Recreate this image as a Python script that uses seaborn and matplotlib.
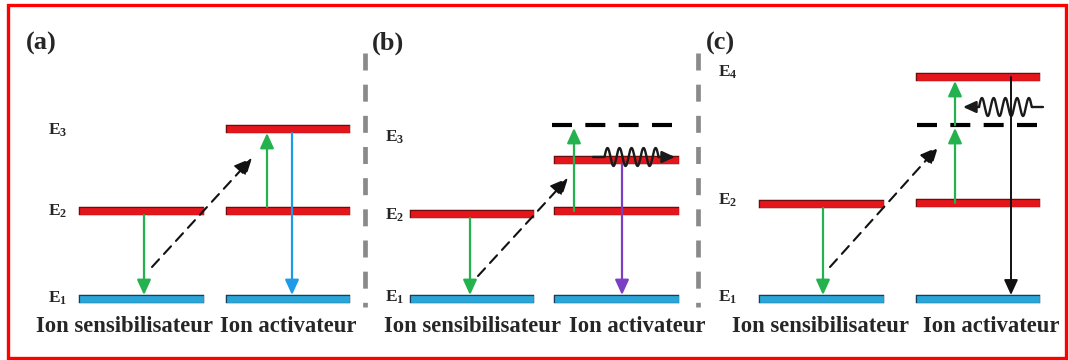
import numpy as np
import pandas as pd
import matplotlib
matplotlib.use("Agg")
import matplotlib.pyplot as plt
import seaborn as sns
from matplotlib import patheffects as pe
from matplotlib.patches import Rectangle

# ---------------- data ----------------
panel_labels = ["(a)", "(b)", "(c)"]
ion_labels = ["Ion sensibilisateur", "Ion activateur"]

# energy levels (arbitrary units, E1 = 0)
a_sens = [0.0, 8.8]
a_act = [0.0, 8.8, 17.0]
b_sens = [0.0, 8.5]
b_act = [0.0, 8.8, 13.9]
b_virtual = 17.4
c_sens = [0.0, 9.5]
c_act = [0.0, 9.6, 22.2]
c_virtual = 17.4

# level name labels and their heights
names_a = [r"$\mathbf{E_1}$", r"$\mathbf{E_2}$", r"$\mathbf{E_3}$"]
names_b = [r"$\mathbf{E_1}$", r"$\mathbf{E_2}$", r"$\mathbf{E_3}$"]
names_c = [r"$\mathbf{E_1}$", r"$\mathbf{E_2}$", r"$\mathbf{E_4}$"]
name_E_a = [0.1, 8.8, 16.9]
name_E_b = [0.2, 8.4, 16.2]
name_E_c = [0.2, 9.9, 22.7]

# energy-transfer (dashed) arrow start / end heights
a_transfer = [3.2, 14.1]
b_transfer = [2.3, 12.1]
c_transfer = [3.2, 15.2]
# phonon (wavy) arrow heights
wavy_E_b = 14.2
wavy_E_c = 19.2

# ---------------- layout ----------------
W, H = 1069, 360
sens_x = [(80, 203), (411, 533), (760, 883)]
act_x = [(227, 349), (555, 678), (917, 1039)]
name_x = [58, 395, 728]
panel_label_x = [41, 388, 720]
ion_text_x = [(124, 288), (472, 637), (820, 991)]
sep_x = [365, 698]

sns.set_theme(style="white")
plt.rcParams["font.family"] = ["Liberation Serif", "DejaVu Serif"]
plt.rcParams["mathtext.fontset"] = "custom"
plt.rcParams["mathtext.bf"] = "Liberation Serif:bold"
plt.rcParams["mathtext.rm"] = "Liberation Serif"

fig = plt.figure(figsize=(W / 100, H / 100), dpi=100)
ax = fig.add_axes([0, 0, 1, 1])
ax.set_xlim(0, W)
ax.set_ylim((299 - H) / 10, 299 / 10)
ax.axis("off")

RED, RED_E = "#e4161c", "#6e0d0d"
BLUE, BLUE_E = "#2aa5d8", "#173f57"
GREEN = "#23b24e"

LW_BAR, LW_EDGE = 4.9, 6.1
inset = LW_BAR / 2 * 100 / 72  # pixels the projecting cap adds

# ----- energy level bars via seaborn -----
rows = []
uid = 0
levels = [(a_sens, a_act), (b_sens, b_act), (c_sens, c_act)]
for p, (sens, act) in enumerate(levels):
    for xs, lev in ((sens_x[p], sens), (act_x[p], act)):
        for i, e in enumerate(lev):
            kind = "ground" if i == 0 else "excited"
            rows.append(dict(x=xs[0] + inset, E=e, uid=uid, kind=kind))
            rows.append(dict(x=xs[1] - inset, E=e, uid=uid, kind=kind))
            uid += 1
df = pd.DataFrame(rows)
sns.lineplot(data=df, x="x", y="E", units="uid", hue="kind",
             palette={"ground": BLUE, "excited": RED}, estimator=None,
             sort=False, legend=False, lw=LW_BAR, ax=ax)
for ln in ax.lines:
    c = matplotlib.colors.to_hex(ln.get_color())
    edge = BLUE_E if c.lower() == BLUE else RED_E
    ln.set_solid_capstyle("projecting")
    ln.set_path_effects([pe.Stroke(linewidth=LW_EDGE, foreground=edge, capstyle="projecting"),
                         pe.Normal()])

half = 0.4


def arrow(x0, y0, x1, y1, color, lw=1.6, ls="-", ms=13):
    ax.annotate("", xy=(x1, y1), xytext=(x0, y0),
                arrowprops=dict(arrowstyle="-|>,head_length=0.7,head_width=0.32",
                                color=color, lw=lw, linestyle=ls,
                                shrinkA=0, shrinkB=0, mutation_scale=ms))


def wavy(x0, x1, e, color="#1a1a1a"):
    d = np.sign(x1 - x0)
    L = abs(x1 - x0)
    xs0 = x0 + d * 0.14 * L
    xs1 = x0 + d * 0.80 * L
    t = np.linspace(0, 1, 400)
    xw = xs0 + (xs1 - xs0) * t
    yw = e + 0.9 * np.sin(2 * np.pi * 4.5 * t)
    ax.plot([x0, xs0], [e, e], color=color, lw=1.7)
    ax.plot(xw, yw, color=color, lw=1.7)
    arrow(xs1, e, x1, e, color, lw=1.7, ms=11)


# panel (a)
arrow(144, a_sens[1] - half, 144, a_sens[0] + half, GREEN)
arrow(152, a_transfer[0], 252, a_transfer[1], "#111111", lw=1.5, ls=(0, (5, 3.5)), ms=15)
arrow(267, a_act[1] + half, 267, a_act[2] - half, GREEN)
arrow(292, a_act[2] - half, 292, a_act[0] + half, "#1e9be6")

# panel (b)
arrow(470, b_sens[1] - half, 470, b_sens[0] + half, GREEN)
arrow(478, b_transfer[0], 568, b_transfer[1], "#111111", lw=1.5, ls=(0, (5, 3.5)), ms=15)
arrow(574, b_act[1], 574, b_virtual - 0.3, GREEN)
arrow(622, b_act[2] - half, 622, b_act[0] + half, "#7b3fc4")
ax.plot([552, 675], [b_virtual, b_virtual], color="black", lw=3.0,
        dashes=(4.8, 3.2), dash_capstyle="butt")
wavy(593, 675, wavy_E_b)

# panel (c)
arrow(823, c_sens[1] - half, 823, c_sens[0] + half, GREEN)
arrow(830, c_transfer[0], 938, c_transfer[1], "#111111", lw=1.5, ls=(0, (5, 3.5)), ms=15)
arrow(955, c_act[1], 955, c_virtual - 0.3, GREEN)
arrow(955, c_virtual, 955, c_act[2] - half, GREEN)
arrow(1011, c_act[2], 1011, c_act[0] + half, "#111111", lw=1.4)
ax.plot([917, 1039], [c_virtual, c_virtual], color="black", lw=3.0,
        dashes=(4.8, 3.2), dash_capstyle="butt")
wavy(1043, 963, wavy_E_c)

# separators
for sx in sep_x:
    ax.plot([sx, sx], [(299 - 53) / 10, (299 - 307) / 10], color="#8a8a8a",
            lw=3.4, dashes=(3.6, 3.0), dash_capstyle="butt")

# texts
all_names = [names_a, names_b, names_c]
all_name_E = [name_E_a, name_E_b, name_E_c]
for p in range(3):
    ax.text(panel_label_x[p], (299 - 43) / 10, panel_labels[p], fontsize=19,
            fontweight="bold", ha="center", va="center")
    for nm, e in zip(all_names[p], all_name_E[p]):
        ax.text(name_x[p], e, nm, fontsize=12.5, ha="center", va="center")
    for tx, lab in zip(ion_text_x[p], ion_labels):
        ax.text(tx, (299 - 327) / 10, lab, fontsize=16.3, fontweight="bold",
                ha="center", va="center")

# red frame
ax.add_patch(Rectangle((8 / W, 2 / H), (1066 - 8) / W, (355 - 2) / H,
                       transform=ax.transAxes, fill=False, edgecolor="#ff0000",
                       lw=2.4, clip_on=False))

fig.savefig("out.png", dpi=100)
